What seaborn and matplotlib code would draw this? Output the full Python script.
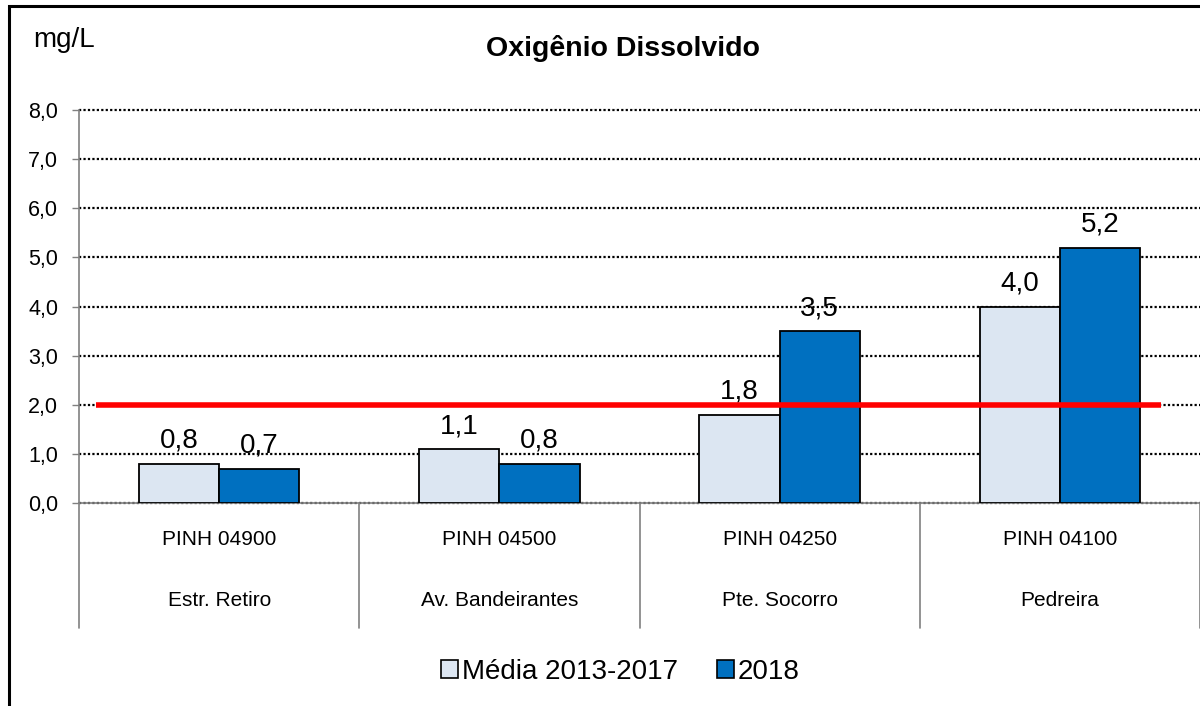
import matplotlib
matplotlib.use('Agg')
import matplotlib.pyplot as plt
from matplotlib.patches import Patch, Rectangle
from matplotlib.ticker import FuncFormatter, MultipleLocator
import seaborn as sns
import pandas as pd

# data
codes = ['PINH 04900', 'PINH 04500', 'PINH 04250', 'PINH 04100']
places = ['Estr. Retiro', 'Av. Bandeirantes', 'Pte. Socorro', 'Pedreira']
series_names = ['Média 2013-2017', '2018']
media = [0.8, 1.1, 1.8, 4.0]
ano_2018 = [0.7, 0.8, 3.5, 5.2]
limite = 2.0  # reference line (mg/L)

colors = {'Média 2013-2017': '#DCE6F2', '2018': '#0070C0'}

df = pd.DataFrame({
    'ponto': codes * 2,
    'serie': [series_names[0]] * 4 + [series_names[1]] * 4,
    'valor': media + ano_2018,
})

sns.set_style('white')
plt.rcParams['font.family'] = ['Liberation Sans', 'DejaVu Sans']
plt.rcParams['text.color'] = 'black'
plt.rcParams['ytick.labelcolor'] = 'black'

fig = plt.figure(figsize=(12, 7.06), dpi=100)
ax = fig.add_axes([79 / 1200, 1 - 503 / 706, 1 - 79 / 1200, 393 / 706])

sns.barplot(data=df, x='ponto', y='valor', hue='serie', order=codes,
            hue_order=series_names, palette=colors, width=0.572, gap=0,
            saturation=1, edgecolor='black', linewidth=1.3, legend=False,
            ax=ax, zorder=3)

ax.set_xlim(-0.5, len(codes) - 0.5)
ax.set_ylim(0, 8)
ax.yaxis.set_major_locator(MultipleLocator(1))
ax.yaxis.set_major_formatter(FuncFormatter(lambda v, p: f'{v:.1f}'.replace('.', ',')))
ax.tick_params(axis='y', labelsize=15.5, length=5, width=1, color='#808080',
               labelcolor='black', direction='out', pad=10, left=True)
ax.tick_params(axis='x', length=0, labelbottom=False)
ax.set_xlabel('')
ax.set_ylabel('')
ax.set_axisbelow(True)
ax.yaxis.grid(True, linestyle=(0, (1, 1)), color='black', linewidth=1.6)
ax.xaxis.grid(False)
for gl in ax.get_ygridlines():
    gl.set_clip_on(False)

for side in ['top', 'right']:
    ax.spines[side].set_visible(False)
for side in ['left', 'bottom']:
    ax.spines[side].set_color('#808080')
    ax.spines[side].set_linewidth(1.2)

# data labels
for cont in ax.containers:
    vals = [b.get_height() for b in cont]
    ax.bar_label(cont, labels=[f'{v:.1f}'.replace('.', ',') for v in vals],
                 padding=7, fontsize=20, color='black')

# reference line
ax.hlines(limite, -0.44, 3.36, color='#FF0000', linewidth=4, zorder=5)

# category labels and dividers
trans = ax.get_xaxis_transform()
for i, (c, p) in enumerate(zip(codes, places)):
    ax.text(i, -0.094, c, transform=trans, ha='center', va='center', fontsize=15)
    ax.text(i, -0.249, p, transform=trans, ha='center', va='center', fontsize=15)
for b in range(len(codes) + 1):
    ax.axvline(b - 0.5, ymin=-0.318, ymax=0, color='#808080', linewidth=1.2,
               clip_on=False)

# titles
fig.text(623 / 1200, 1 - 48 / 706, 'Oxigênio Dissolvido', ha='center', va='center',
         fontsize=20.5, fontweight='bold')
fig.text(33 / 1200, 1 - 40 / 706, 'mg/L', ha='left', va='center', fontsize=20)

# legend
handles = [Patch(facecolor=colors[s], edgecolor='black', linewidth=1.2, label=s)
           for s in series_names]
fig.legend(handles=handles, loc='center', bbox_to_anchor=(0.517, 1 - 672 / 706),
           ncol=2, frameon=False, fontsize=20, handlelength=0.6, handleheight=0.6,
           handletextpad=0.15, columnspacing=1.4)

# outer chart frame
fig.patches.append(Rectangle((9 / 1200, -0.1), 1.2, 0.1 + 1 - 6 / 706,
                             transform=fig.transFigure, fill=False,
                             edgecolor='black', linewidth=2.2))

fig.savefig('out.png', dpi=100)
